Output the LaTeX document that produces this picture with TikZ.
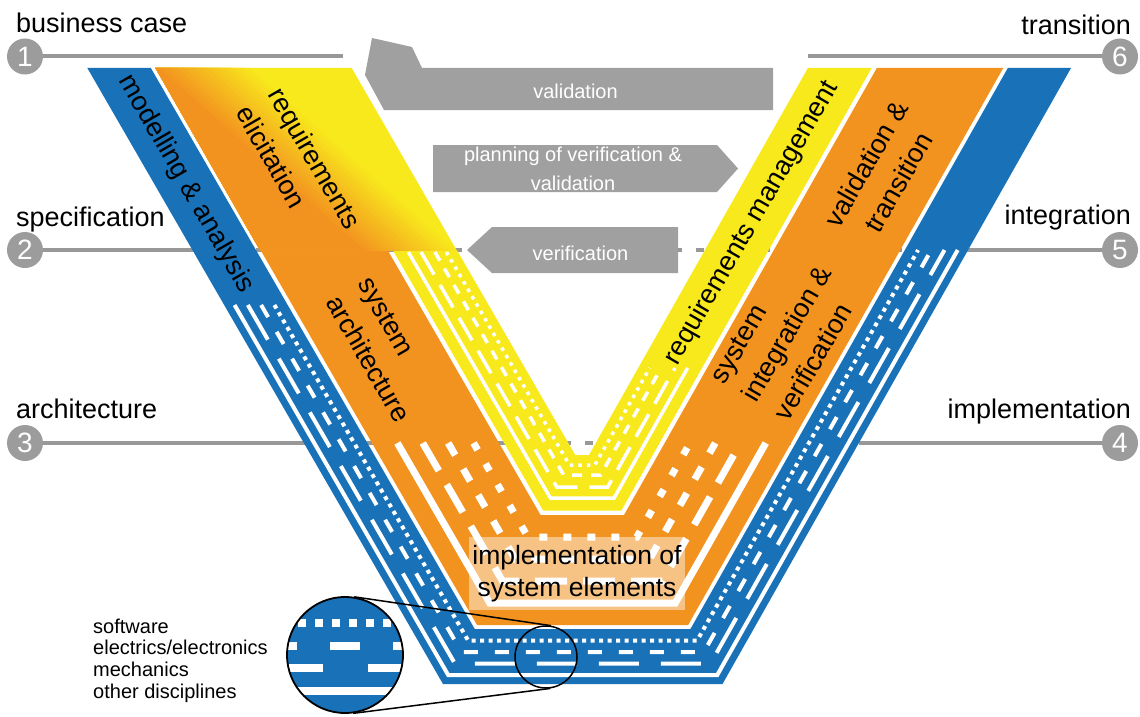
\documentclass[tikz,border=0pt]{standalone}
\usepackage{fontspec}
\setmainfont{Liberation Sans}

\definecolor{vblue}{RGB}{25,113,184}
\definecolor{vorange}{RGB}{242,147,32}
\definecolor{vyellow}{RGB}{248,233,28}
\definecolor{vgrey}{RGB}{156,156,156}
\definecolor{vline}{RGB}{152,152,152}
\definecolor{varrow}{RGB}{160,160,160}

\newcommand{\fsz}[2]{\fontsize{#1}{#2}\selectfont}

% Offset polyline of the V: #1 = distance inward from the outer blue edge,
% #2 / #3 = y where the left / right arm begins (y grows downwards).
\newcommand{\vpts}[3]{%
  \pgfmathsetmacro{\vBy}{684-#1}%
  \pgfmathsetmacro{\vBl}{443+0.5774*#1}%
  \pgfmathsetmacro{\vBr}{722.5-0.583*#1}%
  \pgfmathsetmacro{\vLx}{443+1.1547*#1-(684-#2)*0.5774}%
  \pgfmathsetmacro{\vRx}{722.5-1.149*#1+(684-#3)*0.5658}%
  \edef\vpath{(\vLx,#2) -- (\vBl,\vBy) -- (\vBr,\vBy) -- (\vRx,#3)}%
  \edef\vpathrev{(\vRx,#3) -- (\vBr,\vBy) -- (\vBl,\vBy) -- (\vLx,#2)}%
}
% filled band between two offsets
\newcommand{\vband}[5]{%
  \vpts{#2}{#4}{#5}\let\vA\vpath
  \vpts{#3}{#4}{#5}\let\vB\vpathrev
  \edef\vcmd{\noexpand\fill[#1] \vA -- \vB -- cycle;}\vcmd
}
% white discipline line running along the V at one offset
\newcommand{\vstripe}[4]{%
  \vpts{#2}{#3}{#4}%
  \edef\vcmd{\noexpand\draw[#1] \vpath;}\vcmd
}

\begin{document}
\begin{tikzpicture}[x=1pt,y=-1pt,
  phase/.style={draw=vline, line width=4pt},
  phasedash/.style={phase, dash pattern=on 8pt off 14pt},
  num/.style={circle, fill=vgrey, text=white, minimum size=36pt, inner sep=0pt, font=\fsz{28}{30}},
  lab/.style={font=\fsz{27}{32}, inner sep=0pt},
  bandtxt/.style={font=\fsz{27}{37}, inner sep=0pt, align=left},
  arrtxt/.style={text=white, font=\fsz{20}{29.5}, inner sep=0pt, align=center},
  wb/.style={draw=white, line width=4pt},
  wo/.style={draw=white, line width=7pt},
  wy/.style={draw=white, line width=3.5pt},
  lens/.style={draw=black, line width=1.5pt}]
\useasboundingbox (0,0) rectangle (1140,717);

% phase markers
\node[num] (c1) at (25,56.5) {1};
\node[num] (c2) at (25,250) {2};
\node[num] (c3) at (25,443) {3};
\node[num] (c6) at (1120,56.5) {6};
\node[num] (c5) at (1120,250) {5};
\node[num] (c4) at (1120,443) {4};

\coordinate (p1a) at (343,56.5);
\coordinate (p1b) at (808,56.5);
\coordinate (p2a) at (190,250);
\coordinate (p2b) at (966,250);
\coordinate (p3a) at (299,443);
\coordinate (p3b) at (859,443);

% phase lines (behind the V)
\draw[phase] (c1) -- (p1a);
\draw[phase] (p1b) -- (c6);
\draw[phase] (c2) -- (p2a);
\draw[phasedash] (p2a) -- (p2b);
\draw[phase] (p2b) -- (c5);
\draw[phase] (c3) -- (p3a);
\draw[phasedash] (p3a) -- (p3b);
\draw[phase] (p3b) -- (c4);

% phase labels
\node[lab, anchor=base west] (lbc) at (16,33) {business case};
\node[lab, anchor=base west] (lsp) at (16,226) {specification};
\node[lab, anchor=base west] (lar) at (16,418) {architecture};
\node[lab, anchor=base east] (ltr) at (1131,35) {transition};
\node[lab, anchor=base east] (lin) at (1131,224) {integration};
\node[lab, anchor=base east] (lim) at (1131,418) {implementation};

% the three bands of the V
\vband{vblue}{0}{55}{68}{68}
\vband{vorange}{59}{169}{250}{68}
\vband{vyellow}{173.5}{229}{250}{68}

% requirements elicitation block: orange fading into yellow
\begin{scope}
  \clip (155.4,68) -- (351.7,68) -- (456.8,250.5) -- (260.2,250.5) -- cycle;
  \fill[vyellow] (150,60) rectangle (460,256);
  \begin{scope}[shift={(305,157)}, rotate=-41.5]
    \foreach \i in {0,...,15} {
      \pgfmathsetmacro{\vs}{-30+4*\i}
      \pgfmathtruncatemacro{\vm}{100*(\i+1)/16}
      \fill[vorange!\vm!vyellow] (-400,\vs) rectangle (400,400);
    }
  \end{scope}
\end{scope}

% discipline lines in the blue band
\vstripe{wb}{9}{305}{250}
\vstripe{wb, dash pattern=on 40pt off 22pt}{20.5}{305}{250}
\vstripe{wb, dash pattern=on 14pt off 17pt}{32}{305}{250}
\vstripe{wb, dash pattern=on 4pt off 4.5pt}{43.5}{305}{250}
% discipline lines in the orange band
\vstripe{wo}{81}{443}{443}
\vstripe{wo, dash pattern=on 32pt off 16pt}{103}{443}{443}
\vstripe{wo, dash pattern=on 14pt off 16pt}{125}{443}{443}
\vstripe{wo, dash pattern=on 8pt off 16pt}{147}{443}{443}
% discipline lines in the yellow band
\vstripe{wy}{186}{252}{368}
\vstripe{wy, dash pattern=on 26pt off 12pt}{197}{252}{368}
\vstripe{wy, dash pattern=on 10pt off 9pt}{209}{252}{368}
\vstripe{wy, dash pattern=on 3.5pt off 5pt}{219}{252}{368}

% band texts
\node[bandtxt, rotate=-60] (tmod) at (186,184) {modelling \& analysis};
\node[bandtxt, rotate=-60] (treq) at (299,167) {requirements\\elicitation};
\node[bandtxt, rotate=-60] (tsys) at (384,350) {system\\architecture};
\node[bandtxt, rotate=60] (trm) at (752,223) {requirements management};
\node[bandtxt, rotate=60, align=center] (tvt) at (882,173) {validation \&\\transition};
\node[bandtxt, rotate=60] (tsiv) at (787,334) {system\\integration \&\\verification};
\node[font=\fsz{26.5}{31.5}, align=center, fill=white, fill opacity=0.45, text opacity=1,
      minimum width=216pt, minimum height=73pt, inner sep=0pt] (timp) at (577,573.5)
      {implementation of\\system elements};

% grey flow arrows
\fill[varrow] (372,38) -- (412,47) -- (422,68) -- (773,68) -- (773,110) -- (384,110) -- (365,75) -- cycle;
\node[arrtxt, anchor=base] (tval) at (575.5,98) {validation};
\fill[varrow] (433,145) -- (717,145) -- (738,168.5) -- (717,192) -- (433,192) -- cycle;
\node[arrtxt] (tplan) at (573,169) {planning of verification \&\\validation};
\fill[varrow] (467,250) -- (492,227) -- (678,227) -- (678,273) -- (492,273) -- cycle;
\node[arrtxt, anchor=base] (tver) at (580.5,260) {verification};

% legend: magnified cut through the blue band
\begin{scope}
  \clip (345,655) circle[radius=58pt];
  \fill[vblue] (280,590) rectangle (410,720);
  \draw[white, line width=8pt, dash pattern=on 8pt off 9pt] (298,623) -- (410,623);
  \draw[white, line width=8pt, dash pattern=on 30pt off 33pt] (267,646) -- (410,646);
  \draw[white, line width=8pt, dash pattern=on 50pt off 45pt] (273,668) -- (410,668);
  \draw[white, line width=8pt] (280,691) -- (410,691);
\end{scope}
\node[circle, draw=black, line width=1.8pt, minimum size=116pt, inner sep=0pt] (zbig) at (345,655) {};
\node[circle, lens, minimum size=62pt, inner sep=0pt] (zsmall) at (546,657) {};
\draw[lens] (zbig.81.7) -- (zsmall.81.7);
\draw[lens] (zbig.-82.85) -- (zsmall.-82.85);

\node[font=\fsz{20}{21.7}, align=left, inner sep=0pt, anchor=north west] (tleg) at (93,618.4)
  {software\\electrics/electronics\\mechanics\\other disciplines};

\end{tikzpicture}
\end{document}
